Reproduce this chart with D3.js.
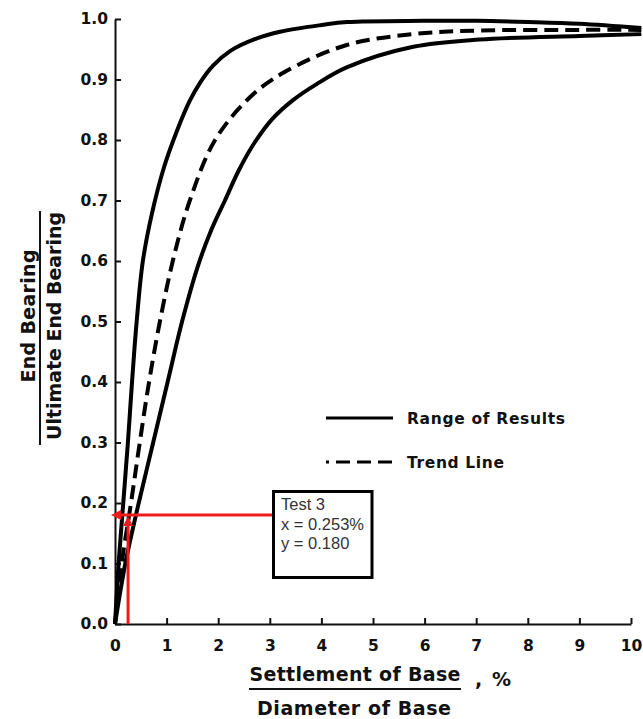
<!DOCTYPE html>
<html>
<head>
<meta charset="utf-8">
<script src="https://cdn.jsdelivr.net/npm/d3@7"></script>
<style>
  body { margin: 0; background: #fff; }
  svg text { font-family: "DejaVu Sans", sans-serif; font-weight: bold; }
  svg text.note { font-family: "Liberation Sans", Arial, sans-serif; font-weight: normal; }
</style>
</head>
<body>
<svg id="chart" width="643" height="719"></svg>
<script>
// [settlement / diameter (%), end bearing / ultimate end bearing]
const upperRange = [[0, 0], [0.07, 0.1], [0.16, 0.2], [0.25, 0.3], [0.33, 0.4], [0.42, 0.5],
  [0.54, 0.6], [0.72, 0.68], [0.95, 0.755], [1.2, 0.815], [1.45, 0.865], [1.65, 0.895],
  [1.9, 0.923], [2.23, 0.947], [2.75, 0.968], [3.2, 0.979], [4.0, 0.99], [4.5, 0.995],
  [6.0, 0.997], [7.0, 0.997], [8.0, 0.995], [9.0, 0.992], [10.2, 0.985]];
const trendLine = [[0, 0], [0.13, 0.1], [0.31, 0.2], [0.48, 0.3], [0.66, 0.4], [0.87, 0.5],
  [1.12, 0.6], [1.45, 0.7], [1.94, 0.8], [2.62, 0.871], [3.26, 0.911], [4.49, 0.957],
  [5.78, 0.975], [7.07, 0.981], [9.0, 0.982], [10.2, 0.982]];
const lowerRange = [[0, 0], [0.2, 0.1], [0.46, 0.2], [0.74, 0.3], [1.02, 0.4], [1.3, 0.5],
  [1.6, 0.59], [1.86, 0.65], [2.13, 0.7], [2.4, 0.75], [2.7, 0.795], [3.05, 0.835],
  [3.45, 0.866], [3.9, 0.892], [4.49, 0.92], [5.78, 0.954], [7.07, 0.966], [9.0, 0.972],
  [10.2, 0.975]];

const xTicks = [0, 1, 2, 3, 4, 5, 6, 7, 8, 9, 10];
const yTicks = [0, 0.1, 0.2, 0.3, 0.4, 0.5, 0.6, 0.7, 0.8, 0.9, 1.0];

const testPoint = { label: "Test 3", x: 0.253, y: 0.180 };
const legendItems = [
  { label: "Range of Results", dash: null, width: 158 },
  { label: "Trend Line", dash: "3,7,14,7,14,7,14", width: 97 }
];

const svg = d3.select("#chart");
const x = d3.scaleLinear().domain([0, 10]).range([115, 631]);
const y = d3.scaleLinear().domain([0, 1]).range([624, 19]);

// axes, ticks point inward
const yAxis = svg.append("g")
  .attr("transform", `translate(${x(0)},0)`)
  .call(d3.axisLeft(y).tickValues(yTicks).tickFormat(d3.format(".1f"))
    .tickSize(-6).tickSizeOuter(0).tickPadding(7));
const xAxis = svg.append("g")
  .attr("transform", `translate(0,${y(0)})`)
  .call(d3.axisBottom(x).tickValues(xTicks).tickFormat(d3.format("d"))
    .tickSize(-6).tickSizeOuter(0).tickPadding(16));

[xAxis, yAxis].forEach(g => {
  g.attr("font-family", null);
  g.select(".domain").attr("stroke", "#111").attr("stroke-width", 2);
  g.selectAll(".tick line").attr("stroke", "#111").attr("stroke-width", 2);
  g.selectAll(".tick text").attr("fill", "#111").attr("font-size", 15.5);
});

// curves
const line = d3.line().x(d => x(d[0])).y(d => y(d[1])).curve(d3.curveCatmullRom.alpha(0.5));
[upperRange, lowerRange].forEach(s => {
  svg.append("path").datum(s).attr("d", line)
    .attr("fill", "none").attr("stroke", "#000").attr("stroke-width", 4);
});
svg.append("path").datum(trendLine).attr("d", line)
  .attr("fill", "none").attr("stroke", "#000").attr("stroke-width", 4)
  .attr("stroke-dasharray", "14,7");

// legend
const legend = svg.append("g").selectAll("g").data(legendItems).join("g")
  .attr("transform", (d, i) => `translate(326,${418 + i * 44})`);
legend.append("line").attr("x1", 0).attr("x2", 67)
  .attr("stroke", "#000").attr("stroke-width", 3)
  .attr("stroke-dasharray", d => d.dash);
legend.append("text").attr("x", 81).attr("y", 6)
  .attr("font-size", 15.5).attr("fill", "#111")
  .attr("textLength", d => d.width).attr("lengthAdjust", "spacing")
  .text(d => d.label);

// axis titles
const yt = svg.append("g").attr("fill", "#111");
yt.append("text").attr("transform", "translate(35,316) rotate(-90)")
  .attr("text-anchor", "middle").attr("font-size", 19)
  .attr("textLength", 133).attr("lengthAdjust", "spacing").text("End Bearing");
yt.append("line").attr("x1", 40).attr("x2", 40).attr("y1", 211).attr("y2", 445)
  .attr("stroke", "#111").attr("stroke-width", 2);
yt.append("text").attr("transform", "translate(61,326) rotate(-90)")
  .attr("text-anchor", "middle").attr("font-size", 19)
  .attr("textLength", 228).attr("lengthAdjust", "spacing").text("Ultimate End Bearing");

const xt = svg.append("g").attr("fill", "#111");
xt.append("text").attr("x", 355).attr("y", 681)
  .attr("text-anchor", "middle").attr("font-size", 19)
  .attr("textLength", 211).attr("lengthAdjust", "spacing").text("Settlement of Base");
xt.append("line").attr("x1", 249).attr("x2", 461).attr("y1", 689).attr("y2", 689)
  .attr("stroke", "#111").attr("stroke-width", 2);
xt.append("text").attr("x", 475).attr("y", 686)
  .attr("font-size", 19)
  .attr("textLength", 36).attr("lengthAdjust", "spacing").text(", %");
xt.append("text").attr("x", 354).attr("y", 715)
  .attr("text-anchor", "middle").attr("font-size", 19)
  .attr("textLength", 194).attr("lengthAdjust", "spacing").text("Diameter of Base");

// annotation of the test point
const red = "#ee1c1c";
const px = x(testPoint.x), py = y(testPoint.y);
const boxX = 273.5, boxY = 491.5, boxW = 98.5, boxH = 86;
svg.append("line").attr("x1", boxX).attr("x2", x(0) + 6).attr("y1", py).attr("y2", py)
  .attr("stroke", red).attr("stroke-width", 3);
svg.append("line").attr("x1", px).attr("x2", px).attr("y1", y(0)).attr("y2", py + 8)
  .attr("stroke", red).attr("stroke-width", 3);
svg.append("path")
  .attr("d", `M${x(0) - 4},${py} L${x(0) + 6},${py - 5} L${x(0) + 6},${py + 5} Z`)
  .attr("fill", red);
svg.append("path")
  .attr("d", `M${px},${py + 1} L${px - 5},${py + 11} L${px + 5},${py + 11} Z`)
  .attr("fill", red);

svg.append("rect").attr("x", boxX).attr("y", boxY).attr("width", boxW).attr("height", boxH)
  .attr("fill", "#fff").attr("stroke", "#000").attr("stroke-width", 3);
svg.append("g").selectAll("text")
  .data([testPoint.label, `x = ${testPoint.x}%`, `y = ${d3.format(".3f")(testPoint.y)}`])
  .join("text")
  .attr("class", "note")
  .attr("x", 281).attr("y", (d, i) => 510 + i * 19.5)
  .attr("font-size", 16.5).attr("fill", "#333")
  .text(d => d);
</script>
</body>
</html>
